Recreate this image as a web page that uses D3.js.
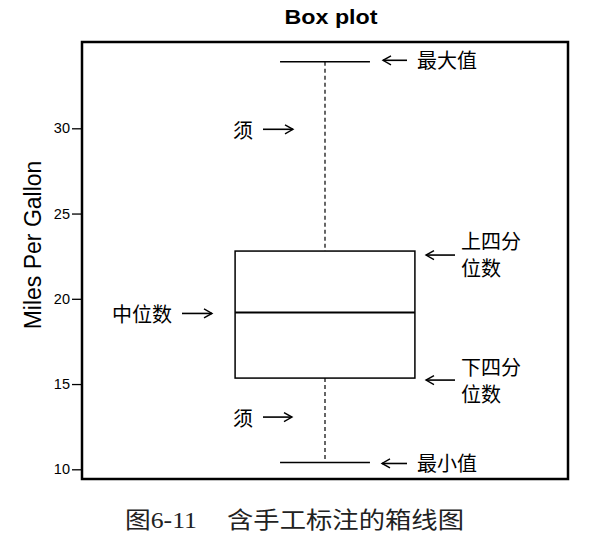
<!DOCTYPE html>
<html>
<head>
<meta charset="utf-8">
<script src="https://cdn.jsdelivr.net/npm/d3@7/dist/d3.min.js"></script>
<style>
  html, body { margin: 0; padding: 0; background: #fff; }
  svg { display: block; }
</style>
</head>
<body>
<svg id="chart" width="602" height="545"></svg>
<script>
// ---- data ----
const category = "mpg";
const stats = { min: 10.4, q1: 15.35, median: 19.2, q3: 22.8, max: 33.9 };
const yTicks = [10, 15, 20, 25, 30];
const titleText = "Box plot";
const yLabel = "Miles Per Gallon";
const captionLeft = "图6-11";
const captionRight = "含手工标注的箱线图";
const notes = {
  max: "最大值", min: "最小值", whisker: "须", median: "中位数",
  q3: ["上四分", "位数"], q1: ["下四分", "位数"]
};

// ---- layout ----
const svg = d3.select("#chart");
const frame = { left: 82, right: 568, top: 42, bottom: 479 };
const y = d3.scaleLinear().domain([10, 30]).range([469.3, 128.3]);
const x = d3.scaleLinear().domain([0.5, 1.5]).range([frame.left, frame.right]);
const boxHalf = 0.185, capHalf = boxHalf / 2;
const cjk = "'Noto Sans CJK SC', 'Noto Sans', sans-serif";

// title
svg.append("text")
  .attr("x", 331).attr("y", 24)
  .attr("text-anchor", "middle")
  .attr("font-family", "'Liberation Sans', Arial, sans-serif")
  .attr("font-weight", "bold").attr("font-size", 21)
  .attr("textLength", 93).attr("lengthAdjust", "spacingAndGlyphs")
  .text(titleText);

// y axis
const axis = d3.axisLeft(y).tickValues(yTicks).tickSize(10).tickPadding(2).tickFormat(d3.format("d"));
const gAxis = svg.append("g").attr("transform", `translate(${frame.left},0)`).call(axis);
gAxis.select(".domain").remove();
gAxis.selectAll(".tick line").attr("stroke", "#000").attr("stroke-width", 1.3);
gAxis.selectAll(".tick text")
  .attr("font-family", "'Liberation Sans', Arial, sans-serif")
  .attr("font-size", 14.5).attr("fill", "#000");

// y label
svg.append("text")
  .attr("transform", "translate(33,245) rotate(-90)")
  .attr("text-anchor", "middle").attr("dominant-baseline", "central")
  .attr("font-family", "'Liberation Sans', Arial, sans-serif")
  .attr("font-size", 23)
  .text(yLabel);

// box plot
const cx = x(1);
const g = svg.append("g").attr("stroke", "#000").attr("fill", "none");
// whiskers (dashed)
g.append("line").attr("x1", cx).attr("x2", cx).attr("y1", y(stats.max)).attr("y2", y(stats.q3))
  .attr("stroke-width", 1.2).attr("stroke-dasharray", "4,3");
g.append("line").attr("x1", cx).attr("x2", cx).attr("y1", y(stats.q1)).attr("y2", y(stats.min))
  .attr("stroke-width", 1.2).attr("stroke-dasharray", "4,3");
// caps
g.append("line").attr("x1", x(1 - capHalf)).attr("x2", x(1 + capHalf))
  .attr("y1", y(stats.max)).attr("y2", y(stats.max)).attr("stroke-width", 1.5);
g.append("line").attr("x1", x(1 - capHalf)).attr("x2", x(1 + capHalf))
  .attr("y1", y(stats.min)).attr("y2", y(stats.min)).attr("stroke-width", 1.5);
// box
g.append("rect").attr("x", x(1 - boxHalf)).attr("width", x(1 + boxHalf) - x(1 - boxHalf))
  .attr("y", y(stats.q3)).attr("height", y(stats.q1) - y(stats.q3))
  .attr("stroke-width", 1.5).attr("fill", "#fff");
// median
g.append("line").attr("x1", x(1 - boxHalf)).attr("x2", x(1 + boxHalf))
  .attr("y1", y(stats.median)).attr("y2", y(stats.median)).attr("stroke-width", 2);

// frame
svg.append("rect")
  .attr("x", frame.left).attr("y", frame.top)
  .attr("width", frame.right - frame.left).attr("height", frame.bottom - frame.top)
  .attr("fill", "none").attr("stroke", "#000").attr("stroke-width", 2.5);

// ---- annotations ----
const ann = svg.append("g");
function arrow(x1, x2, yy) { // arrow from x1 to x2, head at x2
  const dir = x2 > x1 ? 1 : -1;
  ann.append("line").attr("x1", x1).attr("x2", x2).attr("y1", yy).attr("y2", yy)
    .attr("stroke", "#000").attr("stroke-width", 1.6);
  ann.append("path")
    .attr("d", `M${x2 - dir * 8},${yy - 4.5} L${x2},${yy} L${x2 - dir * 8},${yy + 4.5}`)
    .attr("fill", "none").attr("stroke", "#000").attr("stroke-width", 1.4);
}
function label(t, xx, yy, anchor) {
  ann.append("text").attr("x", xx).attr("y", yy)
    .attr("text-anchor", anchor || "start").attr("dominant-baseline", "central")
    .attr("font-family", cjk).attr("font-size", 20).attr("fill", "#000")
    .text(t);
}
// max
arrow(407, 383, y(stats.max) - 1.5);
label(notes.max, 417, y(stats.max) - 2);
// upper whisker
label(notes.whisker, 233, y(30) + 1);
arrow(263, 293, y(30) + 1);
// q3
arrow(455, 426, y(stats.q3) + 4);
label(notes.q3[0], 461, y(stats.q3) - 11);
label(notes.q3[1], 461, y(stats.q3) + 16);
// median
label(notes.median, 112, y(stats.median) + 1);
arrow(182, 212, y(stats.median) + 1);
// q1
arrow(455, 426, y(stats.q1) + 2);
label(notes.q1[0], 461, y(stats.q1) - 12);
label(notes.q1[1], 461, y(stats.q1) + 15);
// lower whisker
label(notes.whisker, 233, y(stats.q1) + 39);
arrow(263, 292, y(stats.q1) + 39);
// min
arrow(407, 382, y(stats.min) + 1);
label(notes.min, 417, y(stats.min));

// caption
svg.append("text").attr("x", 125).attr("y", 528)
  .attr("font-family", "'Liberation Serif', 'Noto Sans CJK SC', serif")
  .attr("font-size", 23).attr("fill", "#222")
  .attr("textLength", 72).attr("lengthAdjust", "spacingAndGlyphs")
  .text(captionLeft);
svg.append("text").attr("x", 227).attr("y", 528)
  .attr("font-family", "'Liberation Serif', 'Noto Sans CJK SC', serif")
  .attr("font-size", 23).attr("fill", "#222")
  .attr("textLength", 237).attr("lengthAdjust", "spacingAndGlyphs")
  .text(captionRight);
</script>
</body>
</html>
